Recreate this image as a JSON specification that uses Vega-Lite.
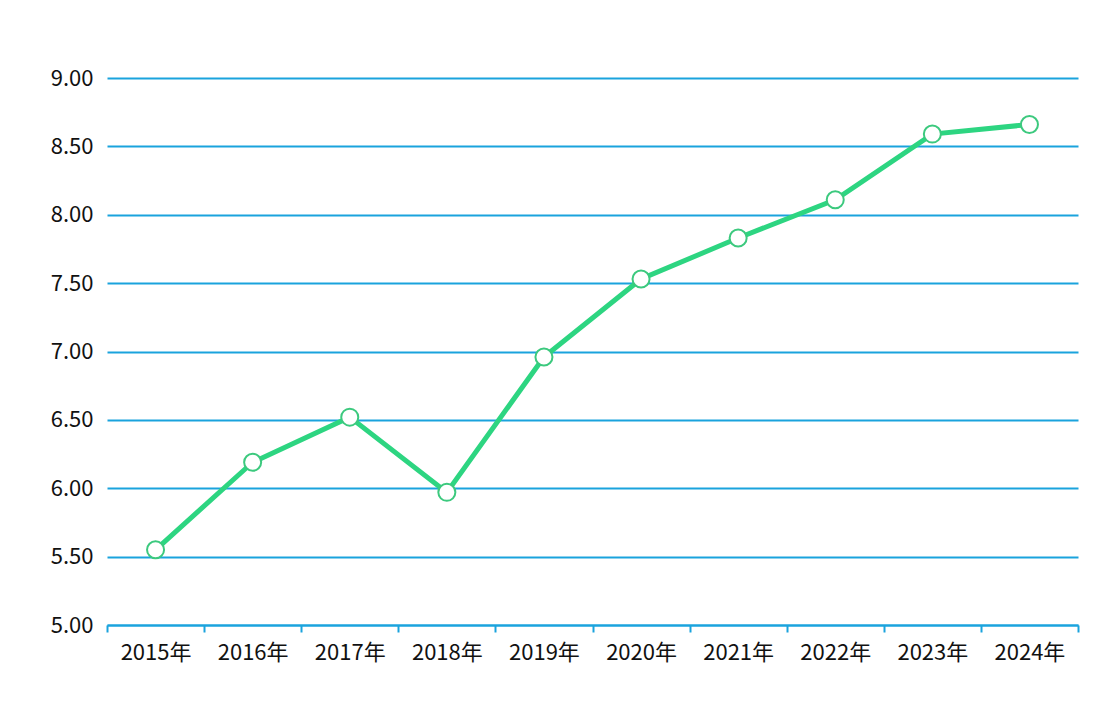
{
  "$schema": "https://vega.github.io/schema/vega-lite/v6.json",
  "width": 971,
  "height": 547,
  "autosize": "none",
  "padding": {"left": 107, "top": 78, "right": 30, "bottom": 101},
  "background": "white",
  "config": {
    "view": {"stroke": null},
    "font": "Noto Sans CJK SC"
  },
  "data": {
    "values": [
      {"year": 2015, "value": 5.55},
      {"year": 2016, "value": 6.19},
      {"year": 2017, "value": 6.52},
      {"year": 2018, "value": 5.97},
      {"year": 2019, "value": 6.96},
      {"year": 2020, "value": 7.53},
      {"year": 2021, "value": 7.83},
      {"year": 2022, "value": 8.11},
      {"year": 2023, "value": 8.59},
      {"year": 2024, "value": 8.66}
    ]
  },
  "encoding": {
    "x": {
      "field": "year",
      "type": "quantitative",
      "scale": {"domain": [2014.5, 2024.5], "nice": false, "zero": false},
      "axis": {
        "orient": "bottom",
        "title": null,
        "values": [2014.5, 2015.5, 2016.5, 2017.5, 2018.5, 2019.5, 2020.5, 2021.5, 2022.5, 2023.5, 2024.5],
        "labelExpr": "datum.value < 2024 ? (datum.value + 0.5) + '年' : ''",
        "labelOffset": 48.55,
        "labelAlign": "center",
        "labelFlush": false,
        "labelOverlap": false,
        "labelFontSize": 22,
        "labelColor": "#111111",
        "labelPadding": 10,
        "grid": false,
        "domainColor": "#1aa3dd",
        "domainWidth": 2,
        "tickColor": "#1aa3dd",
        "tickWidth": 2,
        "tickSize": 7
      }
    },
    "y": {
      "field": "value",
      "type": "quantitative",
      "scale": {"domain": [5, 9], "nice": false, "zero": false},
      "axis": {
        "title": null,
        "values": [5, 5.5, 6, 6.5, 7, 7.5, 8, 8.5, 9],
        "format": ".2f",
        "domain": false,
        "ticks": false,
        "grid": true,
        "gridColor": "#1aa3dd",
        "gridWidth": 2,
        "gridOpacity": 1,
        "labelFontSize": 22,
        "labelColor": "#111111",
        "labelPadding": 14
      }
    }
  },
  "layer": [
    {
      "mark": {"type": "line", "color": "#2dd581", "strokeWidth": 5}
    },
    {
      "mark": {"type": "point", "filled": true, "fill": "white", "stroke": "#3cc97e", "strokeWidth": 2, "size": 290, "opacity": 1}
    }
  ]
}
